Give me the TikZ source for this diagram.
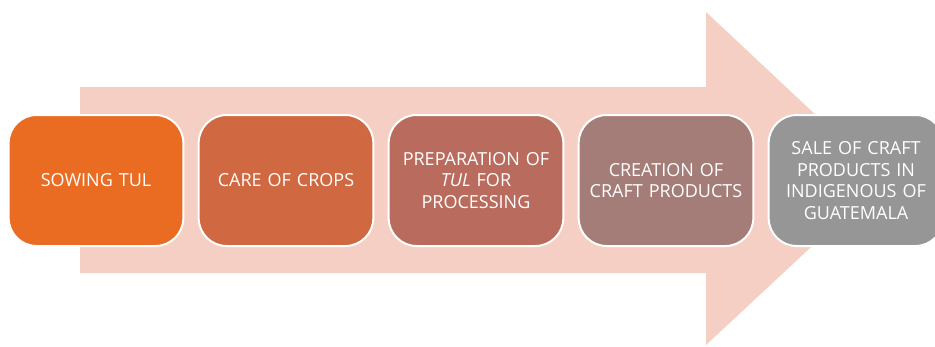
\documentclass[tikz,border=0pt]{standalone}
\usepackage{fontspec}
\setmainfont{Open Sans}
\usepackage{xcolor}
\usetikzlibrary{positioning}

\definecolor{arrowpink}{RGB}{246,207,196}
\definecolor{stepA}{RGB}{234,108,35}
\definecolor{stepB}{RGB}{208,104,65}
\definecolor{stepC}{RGB}{185,108,93}
\definecolor{stepD}{RGB}{165,125,120}
\definecolor{stepE}{RGB}{150,150,150}

\tikzset{
    stepbox/.style={draw=white, line width=2pt, rounded corners=28pt,
        minimum width=171pt, minimum height=131pt, text width=168pt,
        align=center, text=white, font=\fontsize{18}{21.5}\selectfont}
}

\begin{document}
\begin{tikzpicture}[x=1pt, y=-1pt]
    \useasboundingbox (0,0) rectangle (935,346);
    \clip (0,0) rectangle (935,346);

    % Big background arrow
    \fill [arrowpink] (80,87) -- (706,87) -- (706,12) -- (884,179)
        -- (706,345) -- (706,273) -- (80,273) -- cycle;

    % Process steps
    \node (s1) at (96,180.5) [stepbox, fill=stepA] {SOWING TUL};
    \node (s2) at (286,180.5) [stepbox, fill=stepB] {CARE OF CROPS};
    \node (s3) at (476,180.5) [stepbox, fill=stepC] {PREPARATION OF\\ \textit{TUL} FOR\\ PROCESSING};
    \node (s4) at (666,180.5) [stepbox, fill=stepD] {CREATION OF\\ CRAFT PRODUCTS};
    \node (s5) at (856,180.5) [stepbox, fill=stepE] {SALE OF CRAFT\\ PRODUCTS IN\\ INDIGENOUS OF\\ GUATEMALA};
\end{tikzpicture}
\end{document}
